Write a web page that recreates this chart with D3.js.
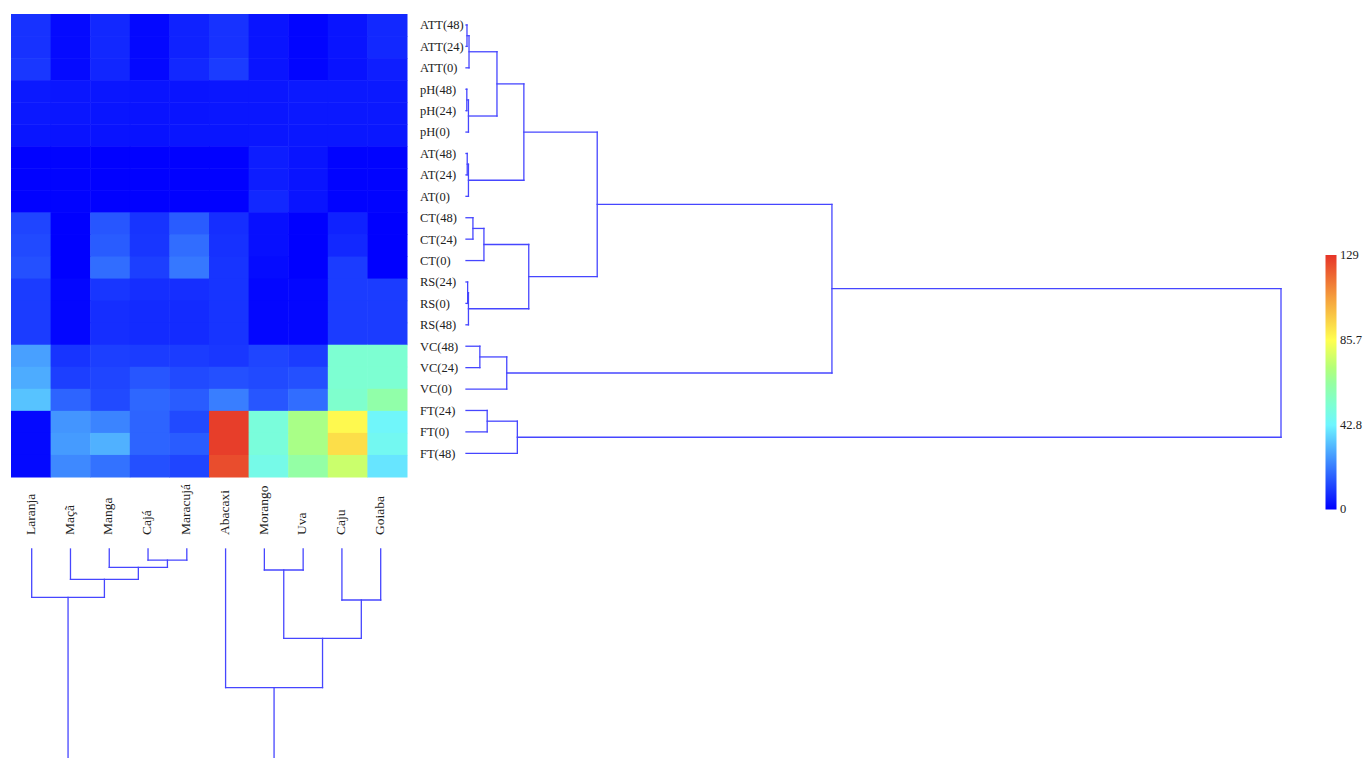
<!DOCTYPE html>
<html>
<head>
<meta charset="utf-8">
<script src="https://cdn.jsdelivr.net/npm/d3@7"></script>
<style>
body{margin:0;background:#fff}
text{font-family:"Liberation Serif","Times New Roman",serif;fill:#222}
</style>
</head>
<body>
<div id="chart"></div>
<script>
var fruits = ["Laranja","Maçã","Manga","Cajá","Maracujá","Abacaxi","Morango","Uva","Caju","Goiaba"]
var variables = ["ATT(48)","ATT(24)","ATT(0)","pH(48)","pH(24)","pH(0)","AT(48)","AT(24)","AT(0)",
    "CT(48)","CT(24)","CT(0)","RS(24)","RS(0)","RS(48)","VC(48)","VC(24)","VC(0)","FT(24)","FT(0)","FT(48)"]

// one row per variable, columns in fruit order
var cellValues = [
    [8.8,1.8,7,1.4,6,8.8,3.5,0.9,3.5,7],
    [8.8,1.8,7,1.4,6,8.8,3.5,0.9,3.5,7],
    [9.6,1.8,6.6,1.4,7,10.5,3.5,0.9,3.2,5.3],
    [4.4,3.8,3.8,3.5,3.5,3.8,3.8,4.4,4.4,4.4],
    [4.2,3.8,3.6,3.4,3.5,3.8,3.8,4.2,4.2,4.2],
    [3.6,3.4,3.4,3.2,3.6,3.6,3.8,4,4,4],
    [0.3,0.5,0.2,0.2,0.2,0.2,5,3.5,0.5,0.5],
    [0.3,0.5,0.2,0.2,0.2,0.2,5,3.5,0.5,0.5],
    [0.3,0.5,0.2,0.2,0.2,0.2,7,3.5,0.5,0.5],
    [12,0,15,9,16,8,2.6,0,6,0],
    [13,0,16,9.5,19,8.5,2.6,0,7,0],
    [14,0,19,11,21,9,2,0,10.5,0],
    [10.5,1,9.5,8,8,9,1,1,10.5,10.5],
    [10.5,1,8,7.5,7.5,9,1,1,10.5,10.5],
    [10.5,1,8,7.5,7.5,9,1,1,10.5,10.5],
    [28,9,11,10.5,10.5,9.6,12,10.5,53,53],
    [30,11,12,15,13,14,13,14,53,53],
    [34,17.5,13,18,16,22,15,19,54,62],
    [1.5,26,23,17.5,13,127,51,69,87,44],
    [1.5,27,31,17.5,16,127,51,69,93,46],
    [1.5,24,20,14,12,124,48,63,76,40]
]

// linkage: [childA, childB, height]; ids >= leaf count refer to earlier merges
var rowMerges = [
    [0,1,0.12],[21,2,0.37],[3,4,0.1],[23,5,0.3],[22,24,3.8],
    [6,7,0.15],[26,8,0.3],[25,27,7.1],[9,10,0.85],[29,11,2.2],
    [12,13,0.2],[31,14,0.3],[30,32,7.7],[28,33,16.1],[15,16,1.7],
    [35,17,5.0],[34,36,44.9],[18,19,2.6],[38,20,6.3],[37,39,100]
]
var colMerges = [
    [3,4,3.7],[2,10,6.1],[1,11,10.1],[0,12,16.1],[6,7,7.0],
    [8,9,17.0],[14,15,29.8],[5,16,46.2],[13,17,100]
]

var colorTicks = [0,42.8,85.7,129]
var colorStops = [0,42.8,53,64,72,85.7,107,129]
var colorRange = ["#0000ff","#6ef5ff","#7dffd2","#96ffa0","#b4ff78","#ffff50","#f5a03c","#e63428"]

var width = 1364
var height = 758
var lineColor = "#4646ff"

var svg = d3.select("#chart").append("svg").attr("width",width).attr("height",height)

var color = d3.scaleLinear().domain(colorStops).range(colorRange).interpolate(d3.interpolateRgb)

// heatmap
var xCell = d3.scaleBand().domain(fruits).range([11,407])
var yCell = d3.scaleBand().domain(variables).range([14,477])

var cells = []
for(var r in variables){
    for(var c in fruits){
        cells.push({row:variables[r],col:fruits[c],value:cellValues[r][c]})
    }
}

svg.append("g").selectAll("rect")
.data(cells)
.enter()
.append("rect")
.attr("x",function(d){return xCell(d.col)})
.attr("y",function(d){return yCell(d.row)})
.attr("width",xCell.bandwidth()+0.5)
.attr("height",yCell.bandwidth()+0.5)
.attr("fill",function(d){return color(d.value)})

// row dendrogram (leaves on the left, heights going right)
var yLeaf = d3.scalePoint().domain(d3.range(variables.length)).range([25,453.3])
var xHeight = d3.scaleLinear().domain([0,100]).range([466,1281])

var rowG = svg.append("g")
rowG.selectAll("text")
.data(variables)
.enter()
.append("text")
.attr("x",420)
.attr("y",function(d,i){return yLeaf(i)})
.attr("dy","0.35em")
.style("font-size","12.5px")
.text(function(d){return d})

drawDendro(rowG,rowMerges,variables.length,yLeaf,xHeight,true)

// column dendrogram (leaves on top, heights going down)
var xLeaf = d3.scalePoint().domain(d3.range(fruits.length)).range([31.7,380.7])
var yHeight = d3.scaleLinear().domain([0,100]).range([549,849])

var colG = svg.append("g")
colG.selectAll("text")
.data(fruits)
.enter()
.append("text")
.attr("transform",function(d,i){return "translate("+(xLeaf(i)-1.5)+",535) rotate(-90)"})
.attr("text-anchor","start")
.attr("dy","0.35em")
.style("font-size","13.5px")
.text(function(d){return d})

drawDendro(colG,colMerges,fruits.length,xLeaf,yHeight,false)

function drawDendro(g,merges,leafCount,posScale,hScale,horizontal){
    var pos = {}
    var hgt = {}
    for(var i=0;i<leafCount;i++){
        pos[i] = posScale(i)
        hgt[i] = 0
    }
    var segs = []
    for(var m in merges){
        var a = merges[m][0], b = merges[m][1], h = merges[m][2]
        var id = leafCount + (+m)
        segs.push([pos[a],hgt[a],pos[a],h])
        segs.push([pos[b],hgt[b],pos[b],h])
        segs.push([pos[a],h,pos[b],h])
        pos[id] = (pos[a]+pos[b])/2
        hgt[id] = h
    }
    g.selectAll(".branch")
    .data(segs)
    .enter()
    .append("line")
    .attr("class","branch")
    .attr(horizontal?"y1":"x1",function(d){return d[0]})
    .attr(horizontal?"x1":"y1",function(d){return hScale(d[1])})
    .attr(horizontal?"y2":"x2",function(d){return d[2]})
    .attr(horizontal?"x2":"y2",function(d){return hScale(d[3])})
    .attr("stroke",lineColor)
    .attr("stroke-width",1.3)
    .attr("stroke-linecap","square")
}

// colour bar
var yBar = d3.scaleLinear().domain([0,129]).range([509.5,255])
var defs = svg.append("defs")
var grad = defs.append("linearGradient").attr("id","cbar").attr("x1","0").attr("y1","1").attr("x2","0").attr("y2","0")
grad.selectAll("stop")
.data(colorStops)
.enter()
.append("stop")
.attr("offset",function(d){return d/129})
.attr("stop-color",function(d){return color(d)})

svg.append("rect")
.attr("x",1325.5)
.attr("y",yBar(129))
.attr("width",11)
.attr("height",yBar(0)-yBar(129))
.attr("fill","url(#cbar)")

svg.selectAll(".cbarLabel")
.data(colorTicks)
.enter()
.append("text")
.attr("class","cbarLabel")
.attr("x",1340)
.attr("y",function(d){return yBar(d)})
.attr("dy","0.3em")
.style("font-size","12.5px")
.text(function(d){return d})
</script>
</body>
</html>
